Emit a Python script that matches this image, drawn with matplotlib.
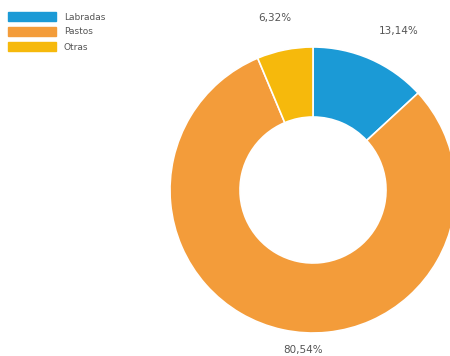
import matplotlib
matplotlib.use('agg')
import matplotlib.pyplot as plt
from matplotlib.patches import Rectangle

categories = ["Labradas", "Pastos", "Otras"]
shares = [13.14, 80.54, 6.32]
pct_labels = ["13,14%", "80,54%", "6,32%"]
colors = ["#1b9ad6", "#f39c3a", "#f6b90c"]

fig = plt.figure(figsize=(4.5, 3.56), dpi=100)
ax = fig.add_axes([0, 0, 1, 1])
ax.set_xlim(0, 450)
ax.set_ylim(0, 356)
ax.set_aspect('equal')
ax.axis('off')

# donut, clockwise from the top
ax.pie(shares, colors=colors, startangle=90, counterclock=False,
       center=(313, 166), radius=143,
       wedgeprops=dict(width=70, edgecolor='white', linewidth=1.2))
ax.set_xlim(0, 450)
ax.set_ylim(0, 356)

# percent labels (placed by hand like the original)
label_pos = [(399, 325), (303, 6), (275, 338)]
for txt, (x, y) in zip(pct_labels, label_pos):
    ax.text(x, y, txt, ha='center', va='center', fontsize=7.5, color='#555555')

# legend at top left
for i, (name, c) in enumerate(zip(categories, colors)):
    y = 339 - i * 15
    ax.add_patch(Rectangle((8, y - 4), 48, 9, color=c))
    ax.text(64, y, name, ha='left', va='center', fontsize=6.5, color='#555555')

plt.savefig("out.png", dpi=100)
